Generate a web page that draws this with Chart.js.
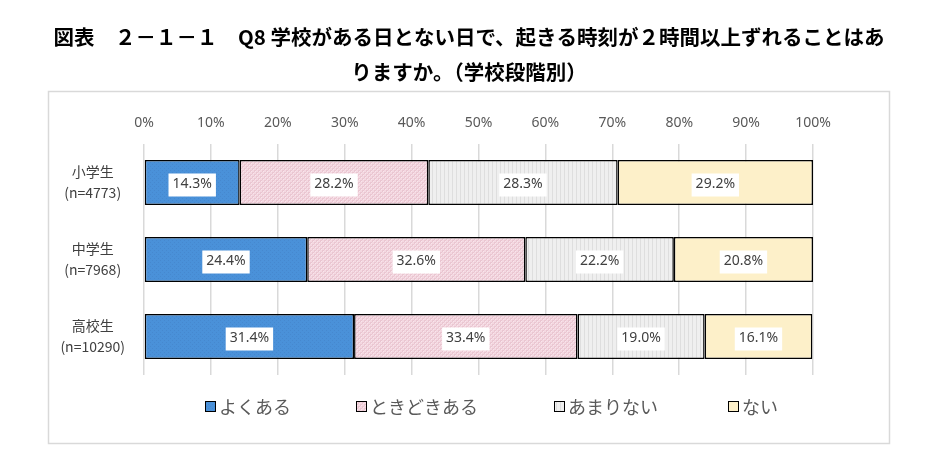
<!DOCTYPE html>
<html><head><meta charset="utf-8">
<script src="https://cdn.jsdelivr.net/npm/chart.js@4.4.1/dist/chart.umd.min.js"></script>
<style>html,body{margin:0;padding:0;background:#fff}#wrap{width:946px;height:470px;position:relative}canvas{display:block}</style>
</head><body><div id="wrap"><canvas id="c" width="946" height="470"></canvas></div>
<script>
const titleLines = ['図表　２－１－１　Q8 学校がある日とない日で、起きる時刻が２時間以上ずれることはあ', 'りますか。（学校段階別）'];
const categories = ['小学生', '中学生', '高校生'];
const sampleSizes = ['(n=4773)', '(n=7968)', '(n=10290)'];
const seriesNames = ['よくある', 'ときどきある', 'あまりない', 'ない'];
const oftenValues = [14.3, 24.4, 31.4];
const sometimesValues = [28.2, 32.6, 33.4];
const rarelyValues = [28.3, 22.2, 19.0];
const neverValues = [29.2, 20.8, 16.1];
const tickLabels = ['0%', '10%', '20%', '30%', '40%', '50%', '60%', '70%', '80%', '90%', '100%'];

function makePattern(kind) {
  const t = document.createElement('canvas');
  const ctx = t.getContext('2d');
  if (kind === 'blue') {
    t.width = 4; t.height = 4;
    ctx.fillStyle = '#4a91d9'; ctx.fillRect(0, 0, 4, 4);
    ctx.fillStyle = '#4688cf'; ctx.fillRect(0, 0, 1, 1); ctx.fillRect(2, 2, 1, 1);
  } else if (kind === 'pink') {
    t.width = 4; t.height = 4;
    ctx.fillStyle = '#f4d8e1'; ctx.fillRect(0, 0, 4, 4);
    ctx.fillStyle = '#eac6d1';
    ctx.fillRect(0, 0, 2, 2); ctx.fillRect(2, 2, 2, 2);
    ctx.fillStyle = '#f8e6ec'; ctx.fillRect(1, 1, 1, 1); ctx.fillRect(3, 3, 1, 1);
  } else if (kind === 'gray') {
    t.width = 4; t.height = 4;
    ctx.fillStyle = '#efefef'; ctx.fillRect(0, 0, 4, 4);
    ctx.fillStyle = '#dedede'; ctx.fillRect(0, 0, 1, 4);
  } else {
    t.width = 4; t.height = 4;
    ctx.fillStyle = '#fdf0c9'; ctx.fillRect(0, 0, 4, 4);
  }
  return document.getElementById('c').getContext('2d').createPattern(t, 'repeat');
}
const fills = [makePattern('blue'), makePattern('pink'), makePattern('gray'), makePattern('yellow')];
const seriesValues = [oftenValues, sometimesValues, rarelyValues, neverValues];

const frameTitlePlugin = {
  id: 'frameTitle',
  beforeDraw(chart) {
    const ctx = chart.ctx;
    ctx.save();
    ctx.fillStyle = '#fff';
    ctx.fillRect(0, 0, chart.width, chart.height);
    ctx.strokeStyle = '#d9d9d9';
    ctx.lineWidth = 1.5;
    ctx.strokeRect(48.5, 91.5, 841, 352);
    ctx.fillStyle = '#000';
    ctx.font = 'bold 20.5px "Noto Sans CJK JP"';
    ctx.textAlign = 'center';
    ctx.textBaseline = 'middle';
    ctx.fillText(titleLines[0], 469, 37);
    ctx.fillText(titleLines[1], 469, 72);
    ctx.restore();
  }
};

const valueLabelPlugin = {
  id: 'valueLabels',
  afterDatasetsDraw(chart) {
    const ctx = chart.ctx;
    ctx.save();
    ctx.font = '14px "Noto Sans"';
    ctx.textAlign = 'center';
    ctx.textBaseline = 'middle';
    chart.data.datasets.forEach((ds, di) => {
      const meta = chart.getDatasetMeta(di);
      meta.data.forEach((el, i) => {
        const txt = ds.data[i].toFixed(1) + '%';
        const cx = (el.x + el.base) / 2;
        const cy = el.y + 2;
        const w = ctx.measureText(txt).width + 8;
        ctx.fillStyle = '#ffffff';
        ctx.fillRect(cx - w / 2, cy - 11, w, 23);
        ctx.fillStyle = '#404040';
        ctx.fillText(txt, cx, cy);
      });
    });
    ctx.restore();
  }
};

const legendGaps = [65, 76, 70];
const legendPlugin = {
  id: 'customLegend',
  afterDraw(chart) {
    const ctx = chart.ctx;
    ctx.save();
    ctx.font = '18px "Noto Sans CJK JP"';
    ctx.textBaseline = 'middle';
    ctx.textAlign = 'left';
    let x = 205;
    const y = 407;
    chart.data.datasets.forEach((ds, i) => {
      ctx.fillStyle = ds.backgroundColor;
      ctx.fillRect(x, y - 6, 11, 11);
      ctx.strokeStyle = '#000';
      ctx.lineWidth = 1;
      ctx.strokeRect(x + 0.5, y - 5.5, 10, 10);
      ctx.fillStyle = '#595959';
      ctx.fillText(ds.label, x + 14, y);
      x += 14 + ctx.measureText(ds.label).width + (legendGaps[i] || 65);
    });
    ctx.restore();
  }
};

new Chart(document.getElementById('c'), {
  type: 'bar',
  data: {
    labels: categories.map((c, i) => [c, sampleSizes[i]]),
    datasets: seriesNames.map((name, i) => ({
      label: name,
      data: seriesValues[i],
      backgroundColor: fills[i],
      borderColor: '#000',
      borderWidth: 1.5,
      borderSkipped: false,
      barPercentage: 0.585,
      categoryPercentage: 1
    }))
  },
  options: {
    indexAxis: 'y',
    responsive: false,
    animation: false,
    devicePixelRatio: 1,
    layout: { padding: { top: 104, left: 50, right: 133, bottom: 95 } },
    plugins: { legend: { display: false }, title: { display: false }, tooltip: { enabled: false } },
    scales: {
      x: {
        position: 'top',
        stacked: true,
        min: 0, max: 100,
        afterFit(s) { s.height = 40; },
        ticks: {
          stepSize: 10,
          padding: 13,
          color: '#595959',
          font: { family: '"Noto Sans"', size: 14 },
          callback: (v) => tickLabels[Math.round(v / 10)]
        },
        grid: { color: '#d9d9d9', lineWidth: 1.5, drawTicks: false },
        border: { display: false }
      },
      y: {
        stacked: true,
        afterFit(s) { s.width = 94; },
        ticks: {
          crossAlign: 'center',
          padding: 11,
          color: '#404040',
          font: { family: '"Noto Sans CJK JP", "Noto Sans"', size: 14, lineHeight: 1.5 }
        },
        grid: { display: false },
        border: { display: false }
      }
    }
  },
  plugins: [frameTitlePlugin, valueLabelPlugin, legendPlugin]
});
</script>
</body></html>
